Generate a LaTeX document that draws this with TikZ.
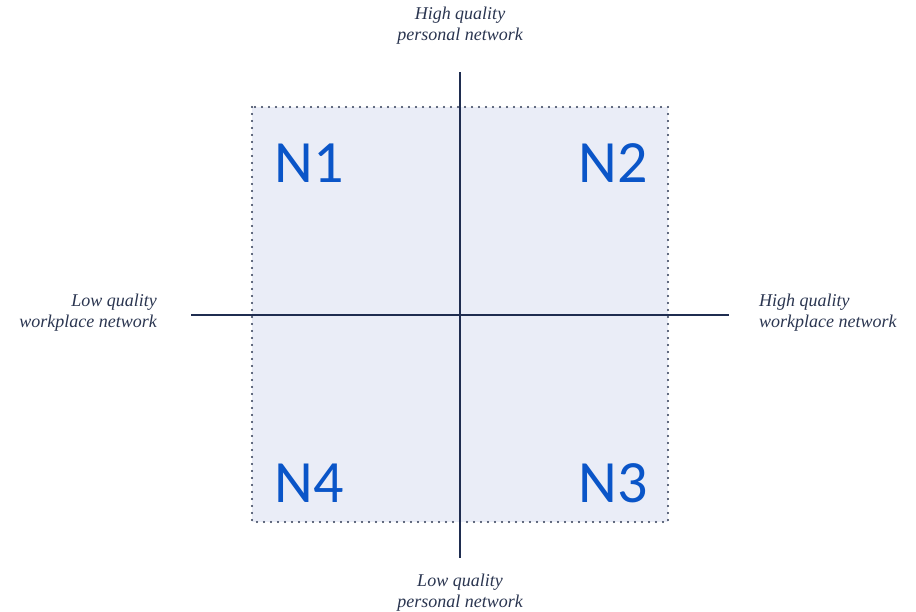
\documentclass[tikz,border=0pt]{standalone}
\usepackage{fontspec}
\setmainfont{Liberation Serif}
\newfontfamily\quadfont{Carlito}
\definecolor{boxfill}{HTML}{EAEDF7}
\definecolor{axiscol}{HTML}{1F2D50}
\definecolor{dotcol}{HTML}{2F3A55}
\definecolor{labcol}{HTML}{2A3550}
\definecolor{ncol}{HTML}{0A55C8}
\begin{document}
\begin{tikzpicture}[x=1pt,y=-1pt,
  axislabel/.style={font=\fontsize{18}{21}\selectfont\itshape, text=labcol, inner sep=0pt, align=center},
  quadlabel/.style={font=\quadfont\fontsize{60}{60}\selectfont, text=ncol, inner sep=0pt},
  axisline/.style={draw=axiscol, line width=1.4pt}]
\useasboundingbox (0,0) rectangle (916,611);
\fill[boxfill] (252,107) rectangle (668,522);
\draw[dotcol, line width=2.2pt, dash pattern=on 0pt off 7pt, line cap=round] (252,107) rectangle (668,522);
\coordinate (top) at (460,72);
\coordinate (bot) at (460,558);
\coordinate (lft) at (191,315);
\coordinate (rgt) at (729,315);
\draw[axisline] (top) -- (bot);
\draw[axisline] (lft) -- (rgt);
\node[quadlabel] (n1) at (309,163) {N1};
\node[quadlabel] (n2) at (613,163) {N2};
\node[quadlabel] (n4) at (309,483) {N4};
\node[quadlabel] (n3) at (613,483) {N3};
\node[axislabel] (tl) at (460,25.5) {High quality\\personal network};
\node[axislabel] (bl) at (460,592.5) {Low quality\\personal network};
\node[axislabel, align=right, anchor=east] (ll) at (157,312.5) {Low quality\\workplace network};
\node[axislabel, align=left, anchor=west] (rl) at (759,312.5) {High quality\\workplace network};
\end{tikzpicture}
\end{document}
